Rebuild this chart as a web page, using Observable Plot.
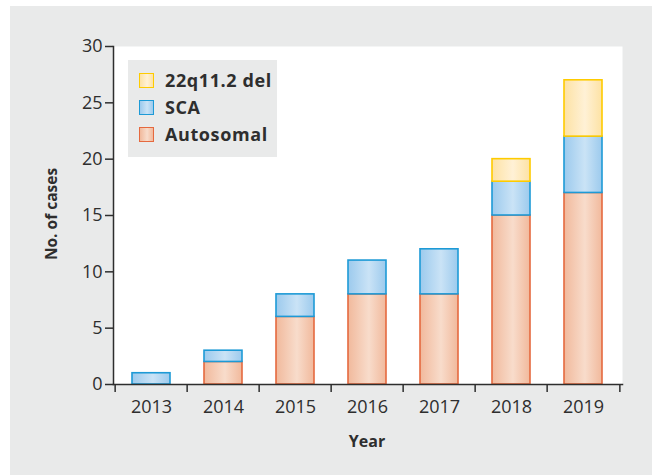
<!DOCTYPE html>
<html><head><meta charset="utf-8">
<script src="https://cdn.jsdelivr.net/npm/d3@7"></script>
<script src="https://cdn.jsdelivr.net/npm/@observablehq/plot@0.6"></script>
<style>
body{margin:0;background:#fff;font-family:"Open Sans",sans-serif;}
#wrap{position:relative;width:655px;height:475px;overflow:hidden}
#panel{position:absolute;left:10px;top:6px;width:642px;height:469px;background:#e9eaea}
#chart{position:absolute;left:0;top:0}
#legend{position:absolute;left:128px;top:60px;width:149px;height:97px;background:#e9eaea}
.item{position:absolute;left:11px;height:20px;display:flex;align-items:center;font-weight:bold;font-size:18px;letter-spacing:0.6px;color:#2e2e2e}
.sw{width:15px;height:15px;margin-right:11px;box-sizing:border-box;border:1.6px solid}
.title{position:absolute;font-weight:bold;font-size:16px;color:#2e2e2e;white-space:nowrap}
</style></head>
<body>
<svg width="0" height="0" style="position:absolute">
 <defs>
  <linearGradient id="gAuto" x1="0" x2="1" y1="0" y2="0">
   <stop offset="0" stop-color="#f1b99c"/><stop offset="0.55" stop-color="#f8dccb"/><stop offset="1" stop-color="#f1b99c"/>
  </linearGradient>
  <linearGradient id="gSca" x1="0" x2="1" y1="0" y2="0">
   <stop offset="0" stop-color="#9ccaed"/><stop offset="0.55" stop-color="#cae3f6"/><stop offset="1" stop-color="#9ccaed"/>
  </linearGradient>
  <linearGradient id="gDel" x1="0" x2="1" y1="0" y2="0">
   <stop offset="0" stop-color="#fde2a4"/><stop offset="0.55" stop-color="#fff1d6"/><stop offset="1" stop-color="#fde2a4"/>
  </linearGradient>
 </defs>
</svg>
<div id="wrap">
 <div id="panel"></div>
 <div id="chart"></div>
 <div id="legend"></div>
 <div class="title" style="left:51px;top:214px;font-size:15.5px;transform:translate(-50%,-50%) rotate(-90deg)">No. of cases</div>
 <div class="title" style="left:367px;top:441px;transform:translate(-50%,-50%)">Year</div>
</div>
<script>
const years = ["2013","2014","2015","2016","2017","2018","2019"];
const autosomal = [0, 2, 6, 8, 8, 15, 17];
const sca = [1, 1, 2, 3, 4, 3, 5];
const del22q = [0, 0, 0, 0, 0, 2, 5];
const categories = ["Autosomal", "SCA", "22q11.2 del"];
const yTicks = [0, 5, 10, 15, 20, 25, 30];

const fills = {"Autosomal": "url(#gAuto)", "SCA": "url(#gSca)", "22q11.2 del": "url(#gDel)"};
const strokes = {"Autosomal": "#e5693f", "SCA": "#1d9ad6", "22q11.2 del": "#fecb00"};
const css = {"Autosomal": "linear-gradient(90deg,#f1b99c,#f8dccb 55%,#f1b99c)", "SCA": "linear-gradient(90deg,#9ccaed,#cae3f6 55%,#9ccaed)", "22q11.2 del": "linear-gradient(90deg,#fde2a4,#fff1d6 55%,#fde2a4)"};

const series = [autosomal, sca, del22q];
const rows = [];
years.forEach((yr, i) => {
  let base = 0;
  series.forEach((s, k) => {
    const v = s[i];
    if (v > 0) rows.push({year: yr, cat: categories[k], y1: base, y2: base + v});
    base += v;
  });
});

const W = 655, H = 475, mL = 113, mR = 33, mT = 46, mB = 91;
const step = (W - mL - mR) / years.length;

const plot = Plot.plot({
  width: W, height: H,
  marginLeft: mL, marginRight: mR, marginTop: mT, marginBottom: mB,
  style: {background: "transparent", fontFamily: "'Open Sans', sans-serif", fontSize: "18px", color: "#2e2e2e"},
  x: {domain: years, paddingInner: 0.47, paddingOuter: 0.235, align: 0.5, label: null},
  y: {domain: [0, 30], label: null},
  marks: [
    Plot.frame({fill: "white", stroke: "none"}),
    ...categories.map(c => Plot.barY(rows.filter(r => r.cat === c), {
      x: "year", y1: "y1", y2: "y2", fill: fills[c], stroke: strokes[c], strokeWidth: 1.6
    })),
    Plot.frame({anchor: "left", stroke: "#2e2e2e", strokeWidth: 1.5}),
    Plot.frame({anchor: "bottom", stroke: "#2e2e2e", strokeWidth: 1.5}),
    Plot.axisY({ticks: yTicks, tickSize: 8, tickPadding: 3, strokeWidth: 1.5, label: null, fontSize: 18}),
    Plot.axisX({tickSize: 0, tickPadding: 16, label: null, fontSize: 18}),
    Plot.axisX({ticks: years, tickSize: 8, tickFormat: () => "", dx: -step / 2, strokeWidth: 1.5, label: null}),
    Plot.axisX({ticks: years.slice(-1), tickSize: 8, tickFormat: () => "", dx: step / 2, strokeWidth: 1.5, label: null})
  ]
});
document.getElementById("chart").appendChild(plot);

const legend = document.getElementById("legend");
[...categories].reverse().forEach((c, i) => {
  const d = document.createElement("div");
  d.className = "item";
  d.style.top = (10 + i * 27) + "px";
  d.innerHTML = `<span class="sw" style="background:${css[c]};border-color:${strokes[c]}"></span>${c}`;
  legend.appendChild(d);
});
</script>
</body></html>
